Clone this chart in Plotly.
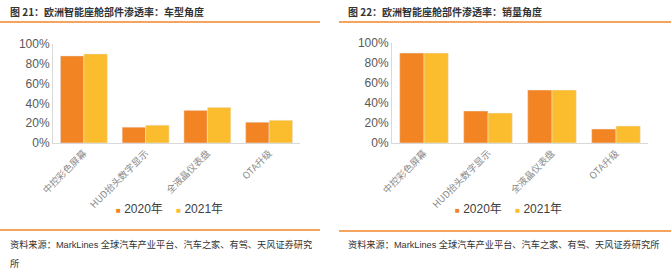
import plotly.graph_objects as go

categories = ["中控彩色屏幕", "HUD抬头数字显示", "全液晶仪表盘", "OTA升级"]
left_2020 = [88, 16, 33, 21]
left_2021 = [90, 18, 36, 23]
right_2020 = [90, 32, 53, 14]
right_2021 = [90, 30, 53, 17]
series_names = ["2020年", "2021年"]
tick_vals = [0, 20, 40, 60, 80, 100]
tick_text = ["0%", "20%", "40%", "60%", "80%", "100%"]
titles = ["图 21：欧洲智能座舱部件渗透率：车型角度", "图 22：欧洲智能座舱部件渗透率：销量角度"]
source_left_1 = "资料来源：MarkLines 全球汽车产业平台、汽车之家、有驾、天风证券研究"
source_left_2 = "所"
source_right = "资料来源：MarkLines 全球汽车产业平台、汽车之家、有驾、天风证券研究所"

C1 = "#F28424"
C2 = "#FBBC2D"
LINE = "#F0862A"
W, H = 671, 274
FONT = "Liberation Sans, Noto Sans CJK SC, sans-serif"

fig = go.Figure()
fig.add_trace(go.Bar(x=categories, y=left_2020, name=series_names[0], marker_color=C1, xaxis="x", yaxis="y", showlegend=False))
fig.add_trace(go.Bar(x=categories, y=left_2021, name=series_names[1], marker_color=C2, xaxis="x", yaxis="y", showlegend=False))
fig.add_trace(go.Bar(x=categories, y=right_2020, name=series_names[0], marker_color=C1, xaxis="x2", yaxis="y2", showlegend=False))
fig.add_trace(go.Bar(x=categories, y=right_2021, name=series_names[1], marker_color=C2, xaxis="x2", yaxis="y2", showlegend=False))

def px_x(x):
    return x / W

def px_y(y):
    return 1 - y / H

xcommon = dict(showline=True, linecolor="#D9D9D9", linewidth=1, ticks="", tickangle=-45, automargin=False,
               tickfont=dict(size=9.5, color="#8A8A8A", family="Noto Sans CJK SC"), showgrid=False,
               zeroline=False, fixedrange=True)
ycommon = dict(showline=True, linecolor="#D9D9D9", linewidth=1, range=[0, 100], tickvals=tick_vals,
               automargin=False, ticktext=tick_text, tickfont=dict(size=12, color="#595959", family=FONT),
               showgrid=False, zeroline=False, ticks="", ticklen=0)

shapes = []
for (x0, x1, y) in [(0, 320, 22), (339, 671, 22), (0, 320, 230), (339, 671, 231)]:
    shapes.append(dict(type="line", xref="paper", yref="paper", x0=px_x(x0), x1=px_x(x1),
                       y0=px_y(y), y1=px_y(y), line=dict(color=LINE, width=1.5)))

annotations = []
for tx, t in [(8, titles[0]), (346, titles[1])]:
    annotations.append(dict(text="<b>" + t + "</b>", x=px_x(tx), y=px_y(12), xref="paper", yref="paper",
                            xanchor="left", yanchor="middle", showarrow=False,
                            font=dict(size=10, color="#333333", family="Noto Sans CJK SC")))
src_font = dict(size=9.2, color="#333333", family="Liberation Sans, Noto Sans CJK SC")
annotations.append(dict(text=source_left_1, x=px_x(8), y=px_y(244), xref="paper", yref="paper",
                        xanchor="left", yanchor="middle", showarrow=False, align="left", font=src_font))
annotations.append(dict(text=source_left_2, x=px_x(8), y=px_y(264), xref="paper", yref="paper",
                        xanchor="left", yanchor="middle", showarrow=False, align="left", font=src_font))
annotations.append(dict(text=source_right, x=px_x(346), y=px_y(244), xref="paper", yref="paper",
                        xanchor="left", yanchor="middle", showarrow=False, align="left", font=src_font))
for cx in [169, 508]:
    leg = ("<span style='font-size:8px;color:%s'>■</span> %s    <span style='font-size:8px;color:%s'>■</span> %s"
           % (C1, series_names[0], C2, series_names[1]))
    annotations.append(dict(text=leg, x=px_x(cx), y=px_y(209), xref="paper", yref="paper",
                            xanchor="center", yanchor="middle", showarrow=False,
                            font=dict(size=12, color="#404040", family=FONT)))

fig.update_layout(
    width=W, height=H, margin=dict(l=0, r=0, t=0, b=0, autoexpand=False),
    paper_bgcolor="white", plot_bgcolor="white",
    barmode="group", bargap=0.24, bargroupgap=0,
    xaxis=dict(domain=[px_x(53), px_x(300)], anchor="y", **xcommon),
    yaxis=dict(domain=[px_y(143), px_y(44)], anchor="x", **ycommon),
    xaxis2=dict(domain=[px_x(392), px_x(648)], anchor="y2", **xcommon),
    yaxis2=dict(domain=[px_y(143), px_y(43)], anchor="x2", **ycommon),
    shapes=shapes, annotations=annotations, showlegend=False,
)

fig.write_html("out.html")
